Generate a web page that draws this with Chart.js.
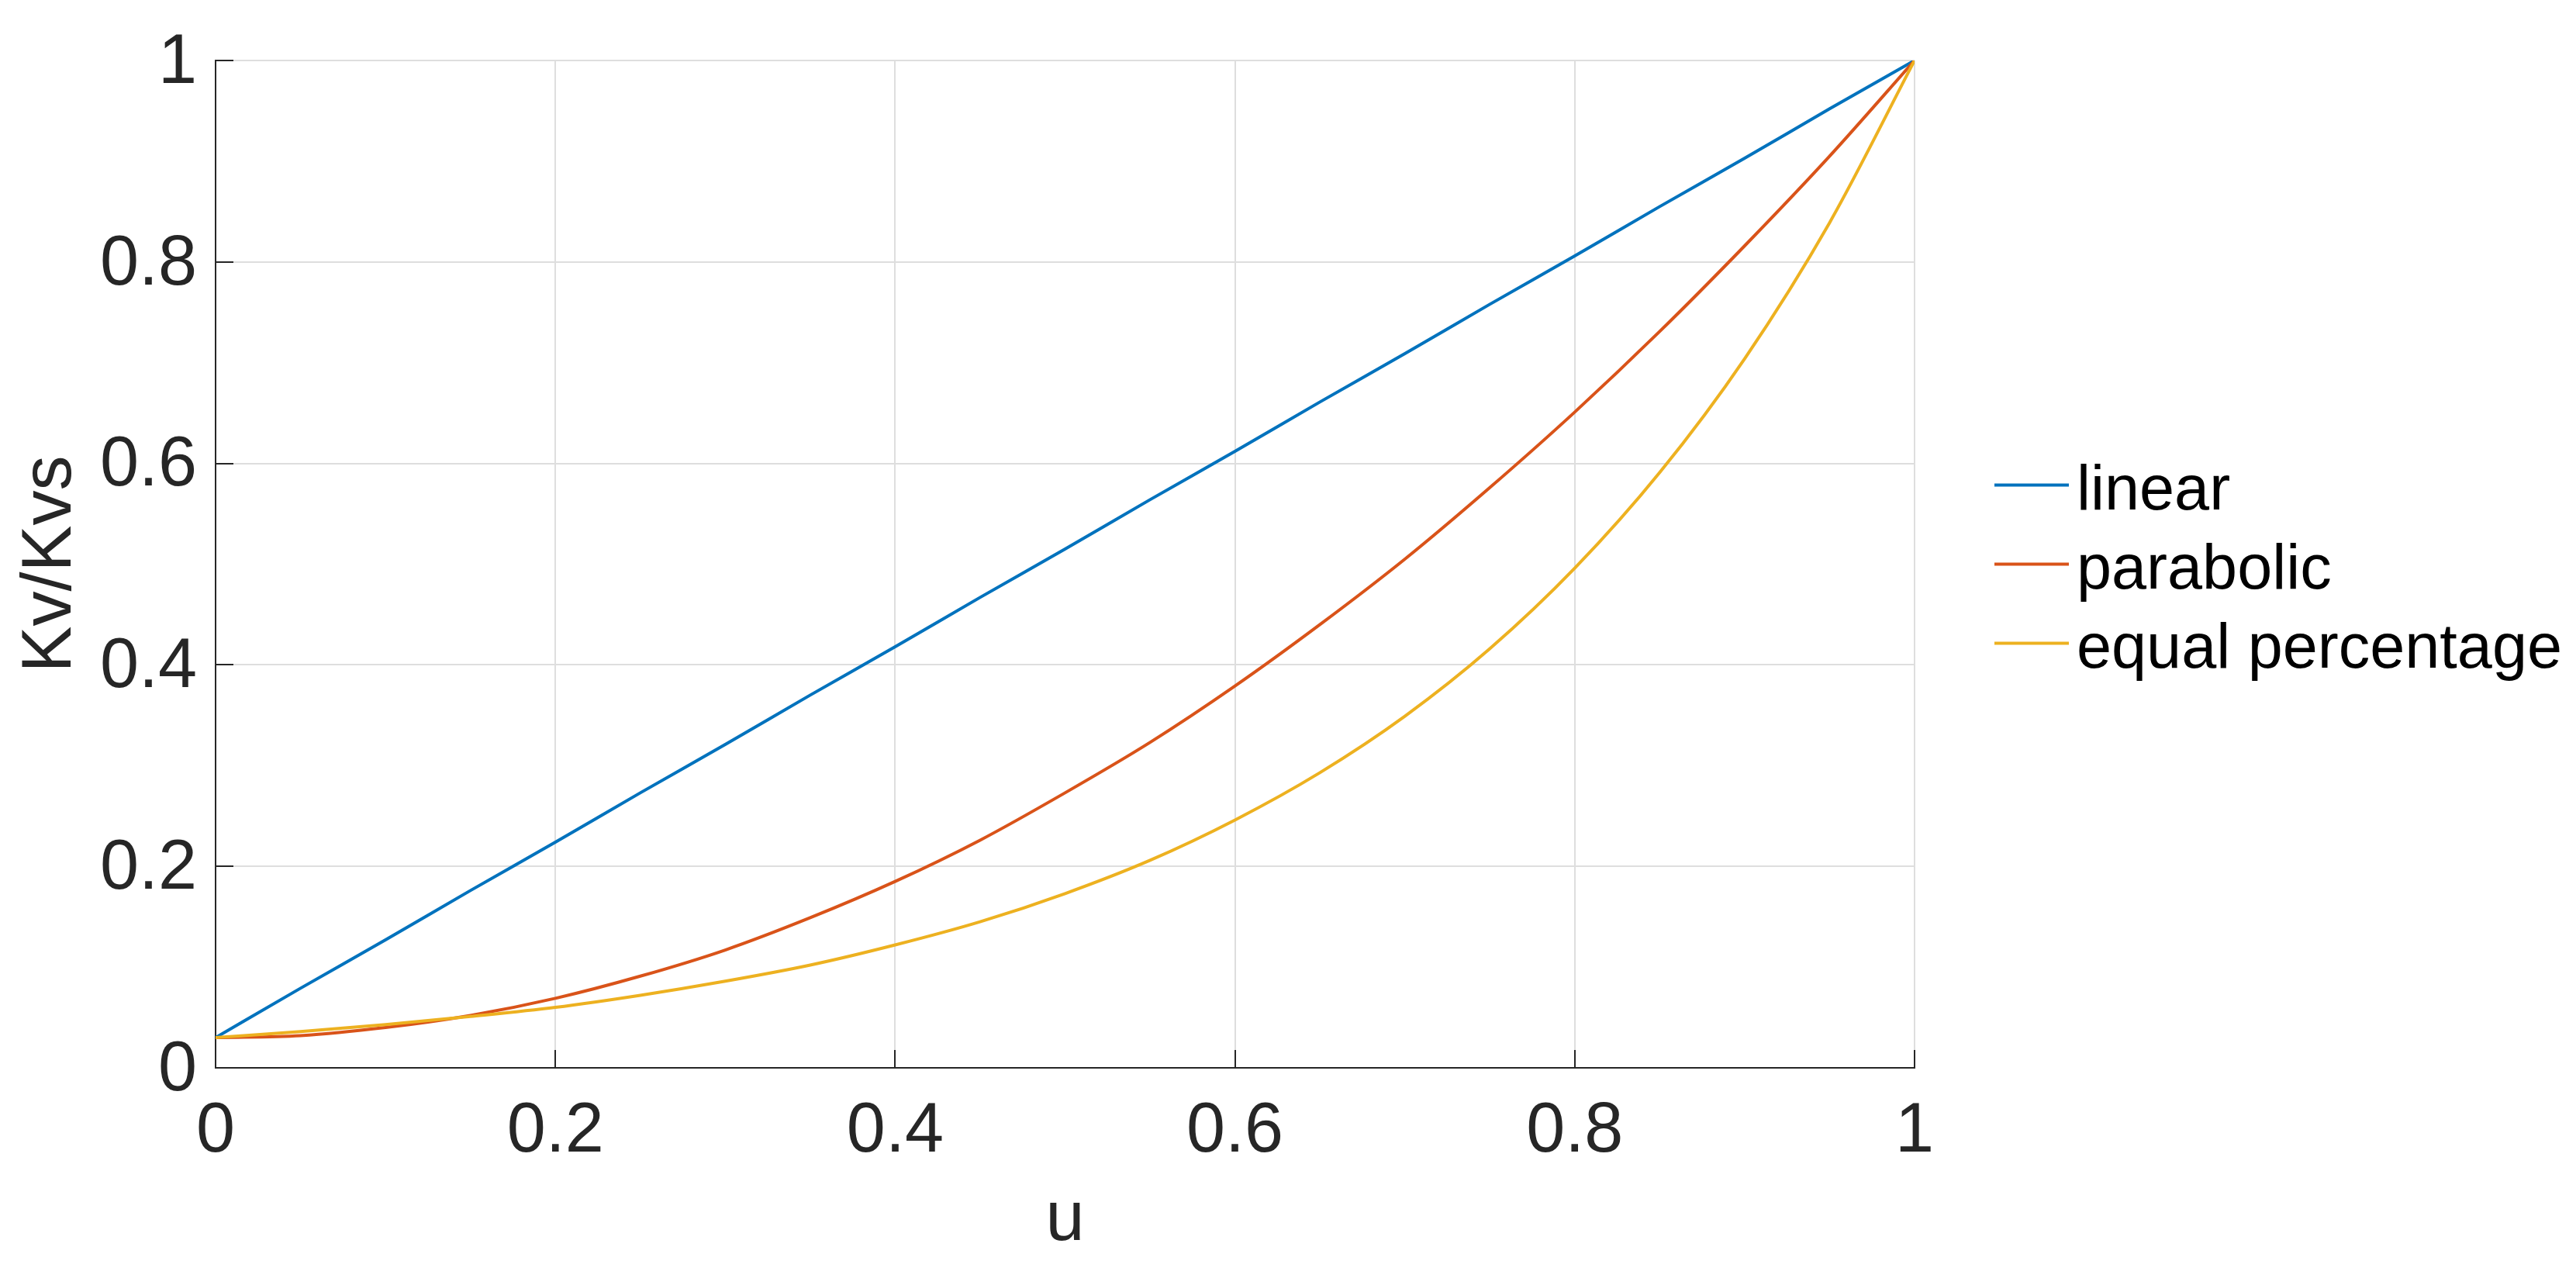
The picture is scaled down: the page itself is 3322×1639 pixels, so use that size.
<!DOCTYPE html>
<html>
<head>
<meta charset="utf-8">
<script src="https://cdn.jsdelivr.net/npm/chart.js@4"></script>
<style>
  html, body { margin: 0; padding: 0; background: #ffffff; }
  #wrap { width: 3322px; height: 1639px; position: relative; }
</style>
</head>
<body>
<div id="wrap"><canvas id="c"></canvas></div>
<script>
// ---- data ----
const uValues = [0, 0.05, 0.1, 0.15, 0.2, 0.25, 0.3, 0.35, 0.4, 0.45, 0.5, 0.55, 0.6, 0.65, 0.7, 0.75, 0.8, 0.85, 0.9, 0.95, 1];
const linearValues = [0.030, 0.079, 0.127, 0.176, 0.224, 0.273, 0.321, 0.370, 0.418, 0.467, 0.515, 0.564, 0.612, 0.661, 0.709, 0.758, 0.806, 0.855, 0.903, 0.952, 1.000];
const parabolicValues = [0.030, 0.032, 0.040, 0.052, 0.069, 0.091, 0.117, 0.149, 0.185, 0.226, 0.273, 0.323, 0.379, 0.440, 0.505, 0.576, 0.651, 0.731, 0.816, 0.905, 1.000];
const equalPctValues = [0.030, 0.036, 0.043, 0.051, 0.060, 0.072, 0.086, 0.102, 0.122, 0.145, 0.173, 0.206, 0.246, 0.293, 0.349, 0.416, 0.496, 0.591, 0.704, 0.839, 1.000];
const seriesNames = ['linear', 'parabolic', 'equal percentage'];
const xTickValues = [0, 0.2, 0.4, 0.6, 0.8, 1];
const xTickLabels = ['0', '0.2', '0.4', '0.6', '0.8', '1'];
const yTickValues = [0, 0.2, 0.4, 0.6, 0.8, 1];
const yTickLabels = ['0', '0.2', '0.4', '0.6', '0.8', '1'];
const xTitle = 'u';
const yTitle = 'Kv/Kvs';

// ---- styles ----
const FONT = '"Liberation Sans", Arial, Helvetica, sans-serif';
const AXIS_COLOR = '#262626';
const GRID_COLOR = '#dedede';
const COLORS = ['#0072BD', '#D95319', '#EDB120'];

const toPoints = (ys) => uValues.map((u, i) => ({ x: u, y: ys[i] }));
const labelFor = (vals, labels) => (v) => {
  const i = vals.findIndex(t => Math.abs(t - v) < 1e-9);
  return i >= 0 ? labels[i] : '';
};

const inwardTicks = {
  id: 'inwardTicks',
  afterDatasetsDraw(chart) {
    const { ctx, chartArea: a, scales } = chart;
    const len = 23;
    ctx.save();
    ctx.strokeStyle = AXIS_COLOR;
    ctx.lineWidth = 2;
    ctx.beginPath();
    xTickValues.forEach(v => {
      const px = Math.round(scales.x.getPixelForValue(v));
      ctx.moveTo(px, a.bottom);
      ctx.lineTo(px, a.bottom - len);
    });
    yTickValues.forEach(v => {
      const py = Math.round(scales.y.getPixelForValue(v));
      ctx.moveTo(a.left, py);
      ctx.lineTo(a.left + len, py);
    });
    ctx.stroke();
    ctx.restore();
  }
};

const matlabLegend = {
  id: 'matlabLegend',
  afterDraw(chart) {
    const { ctx, chartArea: a } = chart;
    const x0 = a.right + 103, x1 = a.right + 199, tx = a.right + 209;
    const yc = (a.top + a.bottom) / 2;
    const rowH = 102;
    ctx.save();
    ctx.font = '81px ' + FONT;
    ctx.textAlign = 'left';
    ctx.textBaseline = 'alphabetic';
    chart.data.datasets.forEach((ds, i) => {
      const y = yc + (i - 1) * rowH;
      ctx.strokeStyle = ds.borderColor;
      ctx.lineWidth = 4;
      ctx.beginPath();
      ctx.moveTo(x0, y);
      ctx.lineTo(x1, y);
      ctx.stroke();
      ctx.fillStyle = '#000000';
      ctx.fillText(ds.label, tx, y + 31);
    });
    ctx.restore();
  }
};

new Chart(document.getElementById('c'), {
  type: 'line',
  data: {
    datasets: [
      { label: seriesNames[0], data: toPoints(linearValues), borderColor: COLORS[0], order: 2 },
      { label: seriesNames[1], data: toPoints(parabolicValues), borderColor: COLORS[1], order: 1 },
      { label: seriesNames[2], data: toPoints(equalPctValues), borderColor: COLORS[2], order: 0 }
    ].map(d => Object.assign(d, {
      borderWidth: 4, pointRadius: 0, fill: false, cubicInterpolationMode: 'monotone'
    }))
  },
  options: {
    responsive: true,
    maintainAspectRatio: false,
    devicePixelRatio: 1,
    animation: false,
    layout: { padding: { left: 0, top: 71, right: 853, bottom: 0 } },
    plugins: { legend: { display: false }, tooltip: { enabled: false } },
    scales: {
      x: {
        type: 'linear', min: 0, max: 1,
        afterFit: (s) => { s.height = 262; },
        afterBuildTicks: (s) => { s.ticks = xTickValues.map(v => ({ value: v })); },
        ticks: {
          callback: labelFor(xTickValues, xTickLabels),
          color: AXIS_COLOR, padding: 29, maxRotation: 0,
          font: { family: FONT, size: 90, lineHeight: 1.2 }
        },
        grid: { color: GRID_COLOR, lineWidth: 2, drawTicks: false },
        border: { color: AXIS_COLOR, width: 2 },
        title: {
          display: true, text: xTitle, color: AXIS_COLOR,
          font: { family: FONT, size: 90, lineHeight: 1 },
          padding: { top: 0, bottom: 20 }
        }
      },
      y: {
        type: 'linear', min: 0, max: 1,
        afterFit: (s) => { s.width = 278; },
        afterBuildTicks: (s) => { s.ticks = yTickValues.map(v => ({ value: v })); },
        ticks: {
          callback: labelFor(yTickValues, yTickLabels),
          color: AXIS_COLOR, padding: 24, labelOffset: 4,
          font: { family: FONT, size: 90, lineHeight: 1.2 }
        },
        grid: { color: GRID_COLOR, lineWidth: 2, drawTicks: false },
        border: { color: AXIS_COLOR, width: 2 },
        title: {
          display: true, text: yTitle, color: AXIS_COLOR,
          font: { family: FONT, size: 90, lineHeight: 1 },
          padding: { top: 21, bottom: 0 }
        }
      }
    }
  },
  plugins: [inwardTicks, matlabLegend]
});
</script>
</body>
</html>
